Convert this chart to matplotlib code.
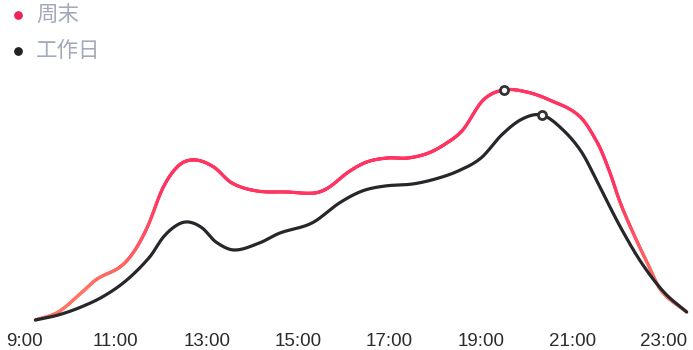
import numpy as np
import matplotlib
matplotlib.use("Agg")
import matplotlib.pyplot as plt
from matplotlib.collections import LineCollection
from matplotlib.colors import LinearSegmentedColormap, Normalize
from matplotlib.lines import Line2D

# ---------------- data ----------------
series_names = ['周末', '工作日']
weekend_hours = [9.25, 9.75, 10.25, 10.6, 11.1, 11.4, 11.7, 12.05, 12.4, 12.75, 13.15, 13.55,
                 14.1, 14.75, 15.35, 15.65, 16.1, 16.5, 16.95, 17.4, 17.85, 18.25, 18.6,
                 19.05, 19.5, 20.0, 20.5, 21.15, 21.55, 21.8, 22.05, 22.35, 22.65, 22.95, 23.5]
weekend = [0, 8, 27, 41, 53, 68, 93, 133, 155, 160, 153, 137,
           129, 128, 127, 132, 148, 158, 162, 162, 167, 177, 190,
           220, 230, 228, 220, 204, 177, 150, 117, 85, 56, 29, 8]
weekday_hours = [9.25, 9.75, 10.25, 10.75, 11.25, 11.75, 12.05, 12.35, 12.6, 12.9, 13.2, 13.6,
                 14.15, 14.6, 15.3, 15.9, 16.4, 16.9, 17.5, 18.0, 18.5, 19.0, 19.45, 19.9,
                 20.33, 20.75, 21.2, 21.6, 22.05, 22.5, 23.0, 23.5]
weekday = [0, 5, 13, 24, 40, 63, 83, 95, 98, 92, 78, 70,
           77, 87, 97, 117, 129, 134, 136, 141, 149, 162, 185, 201,
           205, 192, 168, 133, 93, 58, 28, 8]
tick_hours = [9, 11, 13, 15, 17, 19, 21, 23]
tick_labels = ['9:00', '11:00', '13:00', '15:00', '17:00', '19:00', '21:00', '23:00']

plt.rcParams['font.family'] = ['Liberation Sans', 'Noto Sans CJK SC', 'DejaVu Sans']


def smooth(xs, ys, n=30):
    """Cubic Hermite curve through the points, for drawing a smooth line."""
    x = np.asarray(xs, float)
    y = np.asarray(ys, float)
    m = np.empty_like(y)
    m[1:-1] = (y[2:] - y[:-2]) / (x[2:] - x[:-2])
    m[0] = (y[1] - y[0]) / (x[1] - x[0])
    m[-1] = (y[-1] - y[-2]) / (x[-1] - x[-2])
    X, Y = [], []
    for i in range(len(x) - 1):
        h = x[i + 1] - x[i]
        t = np.linspace(0, 1, n, endpoint=False)
        h00 = 2 * t ** 3 - 3 * t ** 2 + 1
        h10 = t ** 3 - 2 * t ** 2 + t
        h01 = -2 * t ** 3 + 3 * t ** 2
        h11 = t ** 3 - t ** 2
        X.append(x[i] + t * h)
        Y.append(h00 * y[i] + h10 * h * m[i] + h01 * y[i + 1] + h11 * h * m[i + 1])
    X.append([x[-1]])
    Y.append([y[-1]])
    return np.concatenate(X), np.concatenate(Y)


W, H = 693, 350
fig = plt.figure(figsize=(W / 100, H / 100), dpi=100)
px_per_hour = 45.7
x0_px = 24  # pixel of 9:00
ax = fig.add_axes([0, 30 / H, 1, 320 / H])
ax.set_xlim(9 - x0_px / px_per_hour, 9 + (W - x0_px) / px_per_hour)
ax.set_ylim(0, 320)
for s in ax.spines.values():
    s.set_visible(False)
ax.set_yticks([])
ax.set_xticks(tick_hours)
ax.set_xticklabels(tick_labels)
ax.tick_params(axis='x', length=0, pad=9, labelsize=13.5, labelcolor='#2b2b2b')

# weekend line with vertical gradient
xw, yw = smooth(weekend_hours, weekend)
pts = np.column_stack([xw, yw]).reshape(-1, 1, 2)
segs = np.concatenate([pts[:-1], pts[1:]], axis=1)
cmap = LinearSegmentedColormap.from_list('g', ['#ff7563', '#ff3461'])
norm = Normalize(vmin=30, vmax=130, clip=True)
lc = LineCollection(segs, cmap=cmap, norm=norm, linewidths=2.3, capstyle='round',
                    joinstyle='round', clip_on=False, zorder=2)
lc.set_array((yw[:-1] + yw[1:]) / 2)
ax.add_collection(lc)

# weekday line
xd, yd = smooth(weekday_hours, weekday)
ax.plot(xd, yd, color='#26262b', lw=2.3, solid_capstyle='round', clip_on=False, zorder=3)

# peak markers
iw = int(np.argmax(weekend))
idd = int(np.argmax(weekday))
ax.scatter([weekend_hours[iw], weekday_hours[idd]], [weekend[iw], weekday[idd]],
           s=34, facecolor='white', edgecolor='#333333', linewidth=2.0, zorder=5, clip_on=False)

# legend
leg_colors = ['#f0245a', '#222226']
leg_y = [15, 51]
for name, c, yy in zip(series_names, leg_colors, leg_y):
    fig.add_artist(Line2D([18 / W], [1 - yy / H], transform=fig.transFigure, marker='o',
                          markersize=6.3, color=c, markeredgewidth=0, linestyle='none'))
    fig.text(36 / W, 1 - yy / H, name, fontsize=15.5, color='#a3a9b9', va='center', ha='left',
             family=['Noto Sans CJK SC', 'DejaVu Sans'])

fig.savefig('out.png', dpi=100)
